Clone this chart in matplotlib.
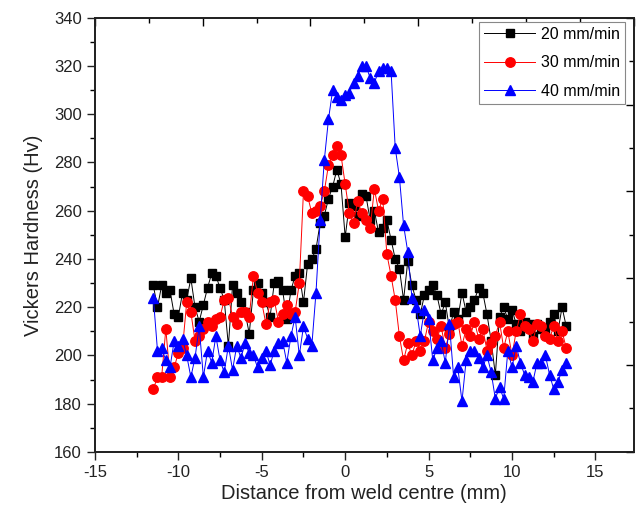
import matplotlib
matplotlib.use("Agg")
import matplotlib.pyplot as plt
from matplotlib.ticker import MultipleLocator, FixedLocator

plt.rcParams['font.family'] = ['Liberation Sans', 'DejaVu Sans']
plt.rcParams['axes.unicode_minus'] = False

distance = [-11.5, -11.25, -11.0, -10.75, -10.5, -10.25, -10.0, -9.75, -9.5, -9.25,
            -9.0, -8.75, -8.5, -8.25, -8.0, -7.75, -7.5, -7.25, -7.0, -6.75,
            -6.5, -6.25, -6.0, -5.75, -5.5, -5.25, -5.0, -4.75, -4.5, -4.25,
            -4.0, -3.75, -3.5, -3.25, -3.0, -2.75, -2.5, -2.25, -2.0, -1.75,
            -1.5, -1.25, -1.0, -0.75, -0.5, -0.25, 0.0, 0.25, 0.5, 0.75,
            1.0, 1.25, 1.5, 1.75, 2.0, 2.25, 2.5, 2.75, 3.0, 3.25,
            3.5, 3.75, 4.0, 4.25, 4.5, 4.75, 5.0, 5.25, 5.5, 5.75,
            6.0, 6.25, 6.5, 6.75, 7.0, 7.25, 7.5, 7.75, 8.0, 8.25,
            8.5, 8.75, 9.0, 9.25, 9.5, 9.75, 10.0, 10.25, 10.5, 10.75,
            11.0, 11.25, 11.5, 11.75, 12.0, 12.25, 12.5, 12.75, 13.0, 13.25]

hv_20 = [229, 220, 229, 226, 227, 217, 216, 226, 223, 232,
         220, 214, 221, 228, 234, 233, 228, 223, 204, 229,
         226, 222, 218, 209, 227, 230, 226, 222, 216, 230,
         231, 227, 215, 227, 233, 234, 222, 238, 240, 244,
         255, 258, 265, 270, 277, 271, 249, 263, 262, 258,
         267, 266, 256, 260, 251, 253, 256, 248, 240, 236,
         223, 239, 229, 223, 217, 225, 227, 229, 225, 217,
         222, 211, 218, 215, 226, 218, 220, 223, 228, 226,
         217, 206, 192, 216, 220, 215, 219, 213, 210, 214,
         213, 208, 213, 211, 210, 214, 217, 210, 220, 212]

hv_30 = [186, 191, 191, 211, 191, 195, 201, 203, 222, 218,
         206, 208, 211, 214, 212, 215, 216, 223, 224, 216,
         213, 218, 218, 216, 233, 226, 222, 213, 222, 223,
         214, 217, 221, 217, 218, 230, 268, 266, 259, 260,
         262, 268, 279, 283, 287, 283, 271, 259, 255, 264,
         259, 256, 253, 269, 260, 265, 242, 233, 223, 208,
         198, 205, 200, 206, 202, 206, 214, 210, 207, 212,
         203, 209, 213, 214, 204, 211, 208, 214, 207, 211,
         202, 205, 208, 214, 203, 210, 200, 210, 217, 212,
         211, 206, 213, 212, 208, 207, 212, 206, 210, 203]

hv_40 = [224, 202, 203, 198, 195, 206, 204, 207, 200, 191,
         199, 212, 191, 202, 197, 208, 198, 193, 204, 194,
         204, 199, 205, 201, 200, 195, 199, 202, 196, 202,
         205, 206, 197, 208, 216, 200, 212, 207, 204, 226,
         256, 281, 298, 310, 307, 306, 308, 309, 313, 316,
         320, 320, 315, 313, 318, 319, 319, 318, 286, 274,
         254, 243, 224, 220, 208, 219, 215, 198, 203, 206,
         197, 213, 191, 195, 181, 198, 202, 202, 199, 195,
         200, 193, 182, 187, 182, 202, 195, 204, 197, 192,
         191, 189, 197, 197, 200, 192, 186, 189, 194, 197]

series_labels = ['20 mm/min', '30 mm/min', '40 mm/min']
x_ticks = [-15, -10, -5, 0, 5, 10, 15]
y_ticks = [160, 180, 200, 220, 240, 260, 280, 300, 320, 340]

fig = plt.figure(figsize=(6.37, 5.23), dpi=100)
ax = fig.add_axes([0.149, 0.136, 0.846, 0.830])

ax.plot(distance, hv_20, '-', color='black', lw=0.7, marker='s', ms=6.0,
        mfc='black', mec='black', label=series_labels[0], zorder=3)
ax.plot(distance, hv_30, '-', color='#ff0000', lw=0.7, marker='o', ms=6.8,
        mfc='#ff0000', mec='#ff0000', label=series_labels[1], zorder=4)
ax.plot(distance, hv_40, '-', color='#0000ff', lw=0.7, marker='^', ms=6.8,
        mfc='#0000ff', mec='#0000ff', label=series_labels[2], zorder=5)

ax.set_xlim(-15, 17.3)
ax.set_ylim(160, 340)
ax.set_xticks(x_ticks)
ax.set_yticks(y_ticks)
ax.xaxis.set_minor_locator(MultipleLocator(2.5))
ax.yaxis.set_minor_locator(MultipleLocator(10))
ax.tick_params(which='major', direction='out', length=6, width=1.0,
               labelsize=12, colors='#222222', top=False, right=False)
ax.tick_params(which='minor', direction='out', length=3.5, width=1.0,
               top=False, right=False)
for s in ax.spines.values():
    s.set_linewidth(1.1)
    s.set_color('#222222')

ax.set_xlabel('Distance from weld centre (mm)', fontsize=14.5, color='#222222', labelpad=3)
ax.set_ylabel('Vickers Hardness (Hv)', fontsize=14.5, color='#222222', labelpad=8)

# mirrored top/right axes with their own (inward) tick spacing, no labels
axt = ax.twiny()
axt.set_xlim(0, 10)
axt.xaxis.set_major_locator(FixedLocator([0, 2, 4, 6, 8, 10]))
axt.xaxis.set_minor_locator(FixedLocator([1, 3, 5, 7, 9]))
axt.tick_params(which='major', direction='in', length=6, width=1.0, labeltop=False)
axt.tick_params(which='minor', direction='in', length=3.5, width=1.0)
axr = ax.twinx()
axr.set_ylim(0, 10)
axr.yaxis.set_major_locator(FixedLocator([0, 2, 4, 6, 8, 10]))
axr.yaxis.set_minor_locator(FixedLocator([1, 3, 5, 7, 9]))
axr.tick_params(which='major', direction='in', length=6, width=1.0, labelright=False)
axr.tick_params(which='minor', direction='in', length=3.5, width=1.0)
for a in (axt, axr):
    for s in a.spines.values():
        s.set_linewidth(1.1)
        s.set_color('#222222')

leg = axr.legend(*ax.get_legend_handles_labels(), loc='upper right',
                 bbox_to_anchor=(0.983, 0.99), fontsize=11.5, frameon=True,
                 fancybox=False, edgecolor='#888888', framealpha=1,
                 handlelength=3.2, numpoints=1, borderpad=0.3,
                 labelspacing=0.85, handletextpad=0.35, borderaxespad=0)
leg.get_frame().set_linewidth(0.8)

fig.savefig('out.png', dpi=100)
